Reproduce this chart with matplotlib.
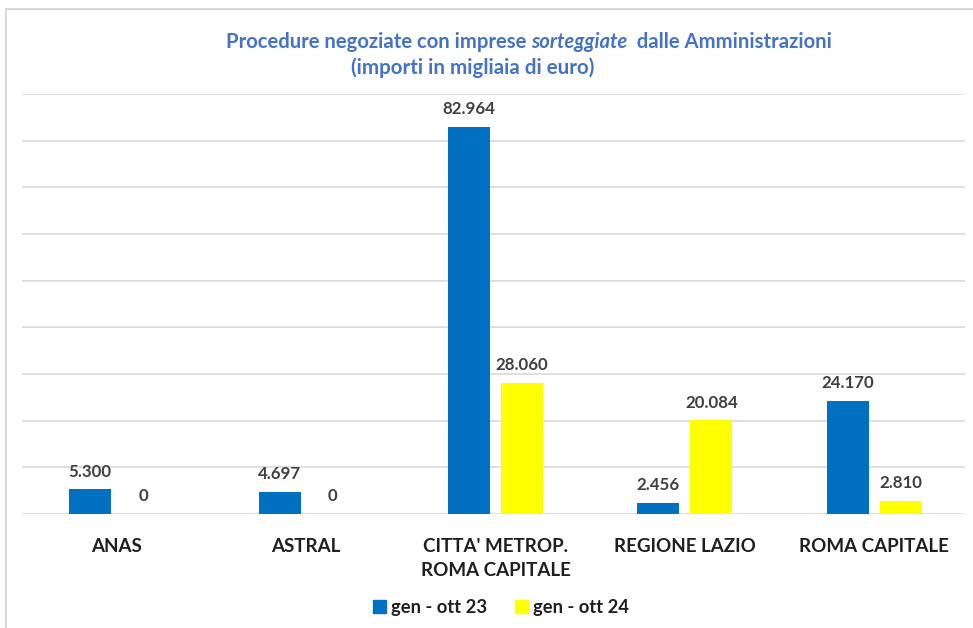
import matplotlib
matplotlib.use("Agg")
import matplotlib.pyplot as plt
from matplotlib.patches import Rectangle, Patch
import numpy as np

categories = ["ANAS", "ASTRAL", "CITTA' METROP.\nROMA CAPITALE", "REGIONE LAZIO", "ROMA CAPITALE"]
series_names = ["gen - ott 23", "gen - ott 24"]
values_23 = [5300, 4697, 82964, 2456, 24170]
values_24 = [0, 0, 28060, 20084, 2810]
colors = ["#0070C0", "#FFFF00"]

FONT = ["Lato", "DejaVu Sans"]
plt.rcParams['font.family'] = FONT

W, H = 973, 628
fig = plt.figure(figsize=(W / 100, H / 100), dpi=100)

def fx(px):
    return px / W

def fy(py):
    return 1 - py / H

ax = fig.add_axes([fx(22), fy(514), fx(965 - 22), fy(94) - fy(514)])
x = np.arange(len(categories))
bw = 0.222
gap = 0.058
off = (bw + gap) / 2
b1 = ax.bar(x - off, values_23, bw, color=colors[0], zorder=3)
b2 = ax.bar(x + off, values_24, bw, color=colors[1], zorder=3)

ax.set_ylim(0, 90000)
ax.set_xlim(-0.5, 4.479)
ax.set_yticks(np.arange(0, 90001, 10000))
ax.yaxis.grid(True, color="#d9d9d9", linewidth=1.2, zorder=0)
ax.tick_params(axis='y', left=False, labelleft=False)
ax.tick_params(axis='x', bottom=False)
for s in ax.spines.values():
    s.set_visible(False)
ax.set_xticks(x)
ax.set_xticklabels(categories, fontsize=13.5, fontweight='bold', color="#1f1f1f", linespacing=1.5)
ax.tick_params(axis='x', pad=14)

def fmt(v):
    return f"{v:,}".replace(",", ".")

for bars, vals in ((b1, values_23), (b2, values_24)):
    for b, v in zip(bars, vals):
        ax.annotate(fmt(v), (b.get_x() + b.get_width() / 2, v), xytext=(0, 7),
                    textcoords='offset points', ha='center', va='bottom',
                    fontsize=12.2, fontweight='bold', color="#404040")

# title with italic word
tcol = "#4472C4"
fig.canvas.draw()
r = fig.canvas.get_renderer()
parts = [("Procedure negoziate con imprese ", 'normal'), ("sorteggiate", 'italic'), ("  dalle Amministrazioni", 'normal')]
texts = []
for s, st in parts:
    t = fig.text(0, fy(42), s, fontsize=14.6, fontweight='bold', style=st, color=tcol, ha='left', va='center')
    texts.append(t)
widths = [t.get_window_extent(r).width for t in texts]
total = sum(widths)
start = 529 - total / 2
cur = start
for t, w in zip(texts, widths):
    t.set_x(fx(cur))
    cur += w
fig.text(fx(473), fy(68), "(importi in migliaia di euro)", fontsize=14.8, fontweight='bold',
         color=tcol, ha='center', va='center')

handles = [Patch(color=c) for c in colors]
fig.legend(handles, series_names, loc='center', bbox_to_anchor=(fx(501), fy(607)), ncol=2,
           frameon=False, prop={'size': 13.2, 'weight': 'bold'}, handlelength=0.7, handleheight=0.7,
           handletextpad=0.3, columnspacing=1.5, labelcolor="#1f1f1f")

fig.patches.append(Rectangle((fx(6), fy(H + 5)), 1.1, fy(9) - fy(H + 5), transform=fig.transFigure,
                             fill=False, edgecolor="#cfcfcf", linewidth=1.2))

fig.savefig("out.png", dpi=100, facecolor="white")
